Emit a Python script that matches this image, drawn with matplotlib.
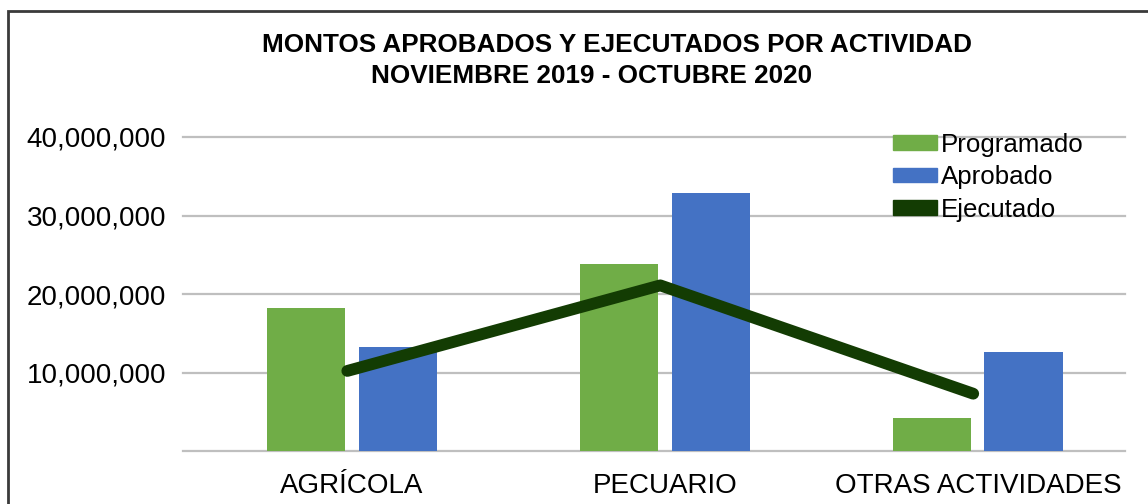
import numpy as np
import matplotlib
matplotlib.use('Agg')
import matplotlib.pyplot as plt
from matplotlib.patches import Patch, Rectangle
from matplotlib.ticker import FuncFormatter

plt.rcParams['font.family'] = ['Liberation Sans', 'DejaVu Sans']

# datos
actividades = ['AGRÍCOLA', 'PECUARIO', 'OTRAS ACTIVIDADES']
programado = [18200000, 23800000, 4200000]
aprobado = [13250000, 32900000, 12600000]
ejecutado = [10200000, 21100000, 7300000]
y_ticks = [10000000, 20000000, 30000000, 40000000]

verde = '#70AD47'
azul = '#4472C4'
oscuro = '#133C03'

fig = plt.figure(figsize=(11.48, 5.04), dpi=100)
ax = fig.add_axes([183 / 1148, 1 - 451 / 504, (1125 - 183) / 1148, (451 - 137) / 504])

x = np.arange(len(actividades))
ancho = 0.25
ax.bar(x - 0.146, programado, width=ancho, color=verde, zorder=2)
ax.bar(x + 0.146, aprobado, width=ancho, color=azul, zorder=2)
ax.plot(x - 0.015, ejecutado, color=oscuro, lw=8.5, solid_capstyle='round', zorder=3)

ax.set_xlim(-0.54, 2.47)
ax.set_ylim(0, 40000000)
ax.set_yticks([0] + y_ticks)
ax.yaxis.set_major_formatter(FuncFormatter(lambda v, p: '' if v == 0 else f'{int(v):,}'))
ax.set_xticks(x)
ax.set_xticklabels(actividades)
ax.tick_params(axis='x', length=0, labelsize=20, pad=16)
ax.tick_params(axis='y', length=0, labelsize=20, pad=12)
ax.grid(axis='y', color='#BFBFBF', lw=1.6, zorder=0)
for s in ax.spines.values():
    s.set_visible(False)
for gl in ax.get_ygridlines():
    gl.set_clip_on(False)

# titulo
fig.text(617 / 1148, 1 - 45 / 504, 'MONTOS APROBADOS Y EJECUTADOS POR ACTIVIDAD',
         ha='center', va='center', fontsize=18.8, fontweight='bold')
fig.text(592 / 1148, 1 - 76 / 504, 'NOVIEMBRE 2019 - OCTUBRE 2020',
         ha='center', va='center', fontsize=18.8, fontweight='bold')

# leyenda
handles = [Patch(color=verde), Patch(color=azul), Patch(color=oscuro)]
fig.legend(handles, ['Programado', 'Aprobado', 'Ejecutado'], loc='upper left',
           bbox_to_anchor=(893 / 1148, 1 - 133 / 504), frameon=False, fontsize=18.6,
           handlelength=1.7, handleheight=0.5, handletextpad=0.15,
           labelspacing=0.32, borderpad=0, borderaxespad=0)

# marco
fig.patches.append(Rectangle((8 / 1148, -0.1), 1.2, 1 - 11 / 504 + 0.1,
                             transform=fig.transFigure, fill=False,
                             edgecolor='#3A3A3A', lw=2, zorder=10))

fig.savefig('out.png', dpi=100)
